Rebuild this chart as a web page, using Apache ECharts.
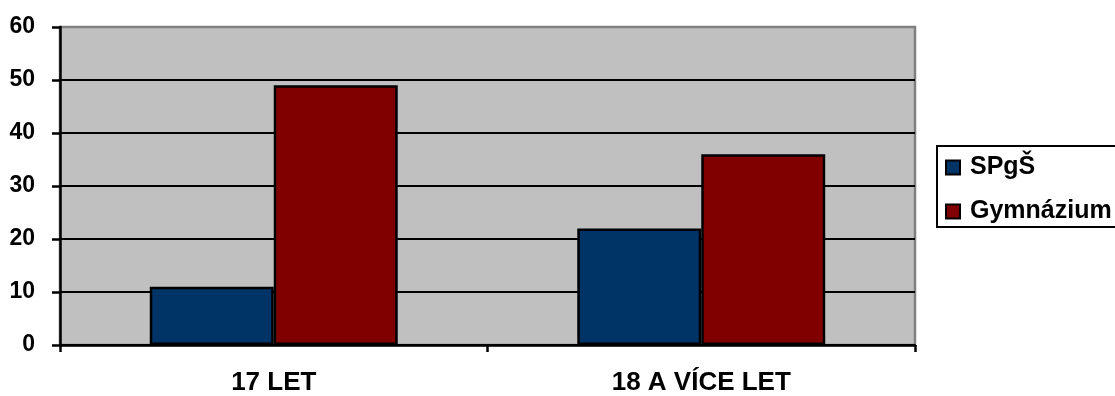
<!DOCTYPE html>
<html>
<head>
<meta charset="utf-8">
<script src="https://cdn.jsdelivr.net/npm/echarts@6/dist/echarts.min.js"></script>
<style>
  html, body { margin: 0; padding: 0; background: #fff; }
  #chart { width: 1115px; height: 396px; }
</style>
</head>
<body>
<div id="chart"></div>
<script>
// Age groups on the x axis
const categories = ['17 LET', '18 A VÍCE LET'];
// Counts per school type
const spgsValues = [11, 22];
const gymValues = [49, 36];
const seriesNames = ['SPgŠ', 'Gymnázium'];
// Value axis range
const yMin = 0, yMax = 60, yStep = 10;

const FONT = '"Liberation Sans", Arial, sans-serif';

const chart = echarts.init(document.getElementById('chart'), null, { renderer: 'canvas' });

// top gridline sits on the plot border and takes its grey colour
const gridColors = [];
for (let v = yMin; v <= yMax; v += yStep) gridColors.push(v === yMax ? '#808080' : '#000000');

chart.setOption({
  animation: false,
  backgroundColor: '#ffffff',
  grid: {
    left: 60, right: 200, top: 27, bottom: 51,
    show: true,
    backgroundColor: '#C0C0C0',
    borderColor: '#808080',
    borderWidth: 2.5
  },
  legend: {
    orient: 'vertical',
    left: 937, top: 146,
    data: seriesNames,
    icon: 'rect',
    itemWidth: 14, itemHeight: 14,
    itemGap: 19,
    padding: [9, 40, 3, 8],
    borderColor: '#000', borderWidth: 2,
    backgroundColor: '#fff',
    textStyle: { color: '#000', fontWeight: 'bold', fontSize: 25, fontFamily: FONT, padding: [0, 0, 0, 5] }
  },
  xAxis: {
    type: 'category',
    data: categories,
    axisLine: { show: true, lineStyle: { color: '#000', width: 2.5 } },
    axisTick: { show: true, alignWithLabel: false, length: 7, lineStyle: { color: '#000', width: 2.5 } },
    axisLabel: { color: '#000', fontWeight: 'bold', fontSize: 26, fontFamily: FONT, margin: 25 },
    splitLine: { show: false }
  },
  yAxis: {
    type: 'value',
    min: yMin, max: yMax, interval: yStep,
    axisLine: { show: true, lineStyle: { color: '#000', width: 2.5 } },
    axisTick: { show: true, length: 8, lineStyle: { color: '#000', width: 2.5 } },
    axisLabel: { color: '#000', fontWeight: 'bold', fontSize: 23, fontFamily: FONT, margin: 25 },
    splitLine: { show: true, lineStyle: { color: gridColors, width: 2 } }
  },
  series: [
    {
      name: seriesNames[0], type: 'bar', data: spgsValues,
      barGap: '0%', barCategoryGap: '42%',
      itemStyle: { color: '#003366', borderColor: '#000', borderWidth: 2.5 }
    },
    {
      name: seriesNames[1], type: 'bar', data: gymValues,
      barGap: '0%', barCategoryGap: '42%',
      itemStyle: { color: '#800000', borderColor: '#000', borderWidth: 2.5 }
    }
  ]
});
</script>
</body>
</html>
